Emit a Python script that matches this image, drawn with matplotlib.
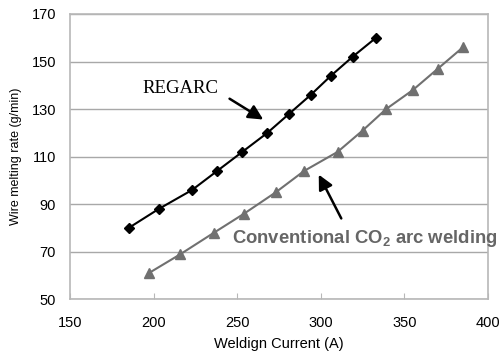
import matplotlib
matplotlib.use("Agg")
import matplotlib.pyplot as plt

# welding current (A) vs wire melting rate (g/min)
regarc_x = [185, 203, 223, 238, 253, 268, 281, 294, 306, 319, 333]
regarc_y = [80, 88, 96, 104, 112, 120, 128, 136, 144, 152, 160]
conv_x = [197, 216, 236, 254, 273, 290, 310, 325, 339, 355, 370, 385]
conv_y = [61, 69, 78, 86, 95, 104, 112, 121, 130, 138, 147, 156]

x_ticks = [150, 200, 250, 300, 350, 400]
y_ticks = [50, 70, 90, 110, 130, 150, 170]

plt.rcParams["font.family"] = ["Liberation Sans", "DejaVu Sans"]
plt.rcParams["mathtext.fontset"] = "custom"
plt.rcParams["mathtext.bf"] = "Liberation Sans:bold"

fig = plt.figure(figsize=(4.99, 3.56), dpi=100)
ax = fig.add_axes([0.1403, 0.159, 0.8377, 0.8017])

ax.plot(regarc_x, regarc_y, color="black", lw=1.5, marker="D", ms=5,
        zorder=3)
ax.plot(conv_x, conv_y, color="#707070", lw=1.5, marker="^", ms=7,
        zorder=3)

ax.set_xlim(150, 400)
ax.set_ylim(50, 170)
ax.set_xticks(x_ticks)
ax.set_yticks(y_ticks)
ax.yaxis.grid(True, color="#a8a8a8", lw=1)
ax.set_axisbelow(True)
for s in ax.spines.values():
    s.set_color("#b8b8b8")
    s.set_linewidth(1.2)
ax.tick_params(axis="x", direction="in", length=4, color="#b8b8b8",
               labelsize=10.5, pad=12)
ax.tick_params(axis="y", length=0, labelsize=10.5, pad=10)

ax.set_xlabel("Weldign Current (A)", fontsize=10.5, labelpad=5)
ax.set_ylabel("Wire melting rate (g/min)", fontsize=9, labelpad=7)

ax.text(216, 138.5, "REGARC", family="Liberation Serif", fontsize=13.5,
        ha="center", va="center")
ax.annotate("", xy=(267, 125), xytext=(244, 135),
            arrowprops=dict(arrowstyle="-|>", color="black", lw=1.8,
                            mutation_scale=22))
ax.text(326, 75.5, r"Conventional CO$_\mathbf{2}$ arc welding",
        fontsize=13.3, fontweight="bold", color="#666666",
        ha="center", va="center")
ax.annotate("", xy=(298, 103.5), xytext=(313, 83),
            arrowprops=dict(arrowstyle="-|>", color="black", lw=1.8,
                            mutation_scale=22))

fig.savefig("out.png", dpi=100)
